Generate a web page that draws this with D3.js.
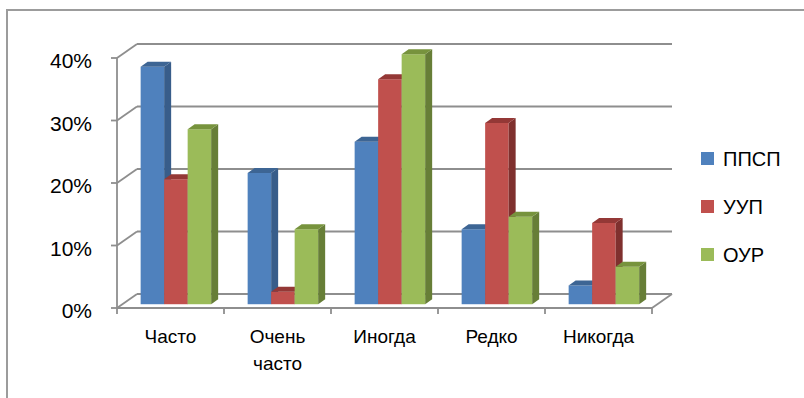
<!DOCTYPE html>
<html>
<head>
<meta charset="utf-8">
<script src="https://cdn.jsdelivr.net/npm/d3@7/dist/d3.min.js"></script>
<style>
  html, body { margin: 0; padding: 0; background: #fff; }
  svg { display: block; font-family: "Liberation Sans", Arial, sans-serif; }
</style>
</head>
<body>
<svg id="chart" width="804" height="398"></svg>
<script>
// Survey answers by service (percent of respondents)
const categories = ["Часто", "Очень часто", "Иногда", "Редко", "Никогда"];
const seriesNames = ["ППСП", "УУП", "ОУР"];
const ppsp = [38, 21, 26, 12, 3];
const uup  = [20, 2, 36, 29, 13];
const our  = [28, 12, 40, 14, 6];
const yTicks = [0, 10, 20, 30, 40];

const seriesValues = [ppsp, uup, our];
const palette = [
  { front: "#4f81bd", side: "#385d8a", top: "#3d6594" },
  { front: "#c0504d", side: "#7f302e", top: "#943836" },
  { front: "#9bbb59", side: "#677e37", top: "#77933d" }
];

const svg = d3.select("#chart");

// Oblique 3D projection: depth z in [0,1] shifts right and up
const DX = 20, DY = 14;
const x = d3.scaleBand().domain(categories).range([117, 652])
  .paddingInner(0.341).paddingOuter(0.1705);
const xInner = d3.scaleBand().domain(seriesNames).range([0, x.bandwidth()]);
const y = d3.scaleLinear().domain([0, 40]).range([308, 58]);
const step = x.step();
const xLeft = 117, xRight = 652;

// Outer chart frame (top and left edges)
svg.append("path")
  .attr("d", "M7,398 V10 H804")
  .attr("fill", "none").attr("stroke", "#9c9c9c").attr("stroke-width", 2);

const grid = svg.append("g").attr("stroke", "#8e8e8e").attr("stroke-width", 1.8).attr("fill", "none");

// Back wall gridlines and side wall diagonals
yTicks.forEach(t => {
  grid.append("line")
    .attr("x1", xLeft + DX).attr("x2", xRight + DX)
    .attr("y1", y(t) - DY).attr("y2", y(t) - DY);
  grid.append("line")
    .attr("x1", xLeft).attr("y1", y(t))
    .attr("x2", xLeft + DX).attr("y2", y(t) - DY);
  // value axis ticks
  grid.append("line")
    .attr("x1", xLeft - 6).attr("x2", xLeft)
    .attr("y1", y(t)).attr("y2", y(t));
});

// Value axis line
grid.append("line")
  .attr("x1", xLeft).attr("x2", xLeft)
  .attr("y1", y(40)).attr("y2", y(0));

// Floor: front edge and right diagonal
grid.append("line")
  .attr("x1", xLeft).attr("x2", xRight)
  .attr("y1", y(0)).attr("y2", y(0));
grid.append("line")
  .attr("x1", xRight).attr("y1", y(0))
  .attr("x2", xRight + DX).attr("y2", y(0) - DY);

// Category tick marks
d3.range(categories.length + 1).forEach(k => {
  const tx = xLeft + k * step;
  grid.append("line")
    .attr("x1", tx).attr("x2", tx)
    .attr("y1", y(0)).attr("y2", y(0) + 6);
});

// Value axis labels
svg.append("g").selectAll("text").data(yTicks).join("text")
  .attr("x", 92).attr("y", d => y(d) + 10)
  .attr("text-anchor", "end")
  .attr("font-size", 21).attr("fill", "#000")
  .text(d => d + "%");

// Category labels (wrapped on spaces)
const catG = svg.append("g");
categories.forEach(c => {
  const t = catG.append("text")
    .attr("x", x(c) + x.bandwidth() / 2)
    .attr("y", 343)
    .attr("text-anchor", "middle")
    .attr("font-size", 19).attr("fill", "#000");
  c.split(" ").forEach((w, i) => {
    t.append("tspan").attr("x", x(c) + x.bandwidth() / 2)
      .attr("dy", i === 0 ? 0 : 27).text(w);
  });
});

// Bars as oblique prisms
const z0 = 0.27, bd = 0.35;
const bx = z0 * DX, by = z0 * DY;
const dx = bd * DX, dy = bd * DY;
const w = xInner.bandwidth();
const bars = svg.append("g");
categories.forEach((c, ci) => {
  seriesNames.forEach((s, si) => {
    const v = seriesValues[si][ci];
    const x0 = x(c) + xInner(s) + bx;
    const top = y(v) - by;
    const bot = y(0) - by;
    const col = palette[si];
    const g = bars.append("g");
    g.append("rect")
      .attr("x", x0).attr("y", top)
      .attr("width", w).attr("height", bot - top)
      .attr("fill", col.front);
    g.append("path")
      .attr("d", `M${x0 + w},${top} L${x0 + w + dx},${top - dy} L${x0 + w + dx},${bot - dy} L${x0 + w},${bot} Z`)
      .attr("fill", col.side);
    g.append("path")
      .attr("d", `M${x0},${top} L${x0 + dx},${top - dy} L${x0 + w + dx},${top - dy} L${x0 + w},${top} Z`)
      .attr("fill", col.top);
  });
});

// Legend
const legend = svg.append("g");
seriesNames.forEach((s, i) => {
  const base = 166 + i * 48;
  legend.append("rect")
    .attr("x", 701).attr("y", base - 14)
    .attr("width", 13).attr("height", 13)
    .attr("fill", palette[i].front);
  legend.append("text")
    .attr("x", 723).attr("y", base)
    .attr("font-size", 20).attr("fill", "#000")
    .text(s);
});
</script>
</body>
</html>
